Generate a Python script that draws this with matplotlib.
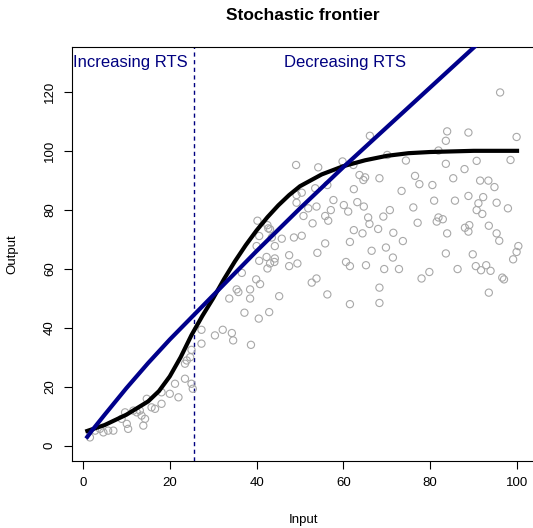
import matplotlib
matplotlib.use('Agg')
import matplotlib.pyplot as plt

plt.rcParams['font.family'] = ['Liberation Sans', 'DejaVu Sans']

# observed firms (input, output)
input_x = [1.6, 2.8, 3.9, 4.7, 5.8, 7.0, 8.9, 9.7, 10.1, 10.4, 11.6, 12.4, 13.1, 13.5, 14.3, 13.9,
           15.8, 16.6, 14.7, 18.1, 18.1, 20.0, 22.0, 21.2, 23.5, 23.5,
           25.0, 25.3, 23.9, 24.7, 25.0, 27.3, 27.3, 30.4, 32.2, 34.3, 34.6, 38.7, 33.7, 35.4, 35.8,
           38.5, 38.5, 37.2, 40.5, 42.9, 45.2, 39.9, 40.8, 36.6, 40.6, 42.3, 43.1, 42.5, 44.1, 47.5, 47.5,
           49.1, 54.2, 49.2, 50.4, 53.5, 56.3, 49.2, 51.9, 53.8, 57.7, 57.1, 50.8, 55.8, 56.5, 52.9,
           40.2, 42.5, 42.7, 43.1, 40.6, 43.5, 45.8, 48.6, 50.4, 40.0, 44.2, 55.8, 44.2, 54.0,
           61.5, 62.4, 64.4, 66.5, 49.4, 60.6, 61.5, 65.2, 52.7, 53.8, 56.3, 61.5, 68.3, 68.3,
           66.1, 59.8, 62.3, 70.1, 74.4, 63.7, 65.0, 64.6, 68.3, 76.5, 77.5, 62.4, 73.4, 60.1, 61.1,
           63.2, 64.7, 70.7, 76.1, 65.7, 66.0, 69.2, 77.1, 68.0, 71.5, 73.7, 69.8,
           71.4, 69.4, 72.8, 78.0, 79.8,
           96.1, 83.9, 88.8, 83.6, 99.9, 81.9, 83.6, 90.7, 98.5, 87.9, 85.3, 91.5, 93.4, 94.8, 80.5,
           88.8, 92.2, 80.9, 85.7, 91.1, 90.7, 92.0, 95.3, 97.9, 81.9, 81.5, 82.9, 89.0, 88.0, 93.5,
           88.8, 83.9, 95.3, 95.9, 100.3, 99.9, 99.1, 83.6, 89.8, 86.3, 90.5, 91.7, 92.9, 93.9,
           96.6, 97.0, 93.5]
output_y = [2.8, 5.1, 5.7, 4.5, 5.1, 5.1, 9.1, 11.3, 7.4, 5.7, 11.9, 11.3, 11.9, 10.2, 9.1, 6.8,
            13.0, 12.5, 15.9, 14.2, 18.1, 17.6, 16.4, 21.0, 22.7, 27.8,
            21.0, 19.3, 28.9, 30.0, 32.5, 39.3, 34.6, 37.4, 39.3, 38.2, 35.7, 34.2, 49.9, 53.0, 52.1,
            53.0, 49.9, 45.1, 43.1, 45.3, 50.7, 56.4, 54.8, 58.6, 62.7, 64.0, 61.8, 60.1, 62.3, 60.9, 64.6,
            95.2, 94.4, 85.0, 85.8, 87.3, 88.4, 82.4, 80.5, 81.1, 83.3, 79.9, 77.9, 77.9, 76.3, 75.4,
            76.3, 74.8, 73.7, 73.4, 71.1, 70.6, 70.2, 70.6, 71.2, 67.7, 67.7, 68.6, 63.5, 65.4,
            69.1, 73.1, 72.0, 66.1, 61.8, 62.3, 60.9, 61.2, 55.3, 56.7, 51.3, 48.0, 53.6, 48.4,
            105.1, 96.4, 95.2, 98.6, 96.7, 91.8, 91.0, 90.1, 90.7, 91.5, 88.7, 87.0, 86.4, 81.6, 79.4,
            82.6, 81.1, 79.9, 80.8, 77.4, 75.2, 77.7, 75.6, 73.5, 72.2, 69.4, 67.2,
            63.8, 59.9, 59.9, 56.7, 58.9,
            119.8, 106.6, 106.2, 103.4, 104.7, 100.1, 95.6, 96.6, 96.9, 93.8, 90.7, 89.9, 89.9, 87.7, 88.4,
            84.7, 84.3, 83.1, 83.1, 82.2, 79.9, 78.6, 82.4, 80.5, 77.4, 76.0, 76.8, 74.8, 73.9, 74.6,
            72.6, 72.0, 72.0, 69.5, 67.7, 65.7, 63.2, 65.2, 64.9, 59.9, 60.9, 59.5, 61.2, 59.3,
            57.0, 56.4, 51.9]

# stochastic frontier (black curve)
frontier_x = [1, 5, 10, 15, 17.5, 20, 22.5, 25, 27.5, 30, 32.5, 35, 37.5, 40, 42.5, 45, 47.5,
              50, 55, 60, 65, 70, 75, 80, 90, 100]
frontier_y = [5, 7, 10.5, 15, 18.5, 23.5, 30, 37.5, 44, 50, 56.5, 62.5, 68, 73, 77.5, 81.5, 85,
              88, 92, 94.8, 96.8, 98.3, 99.2, 99.6, 100, 100]

# constant-returns reference (blue line)
ray_x = [1, 2, 5, 10, 15, 20, 25, 30, 40, 50, 60, 70, 80, 90, 100]
ray_y = [3, 5, 10.5, 19.5, 28, 36, 43.5, 51, 66, 80.5, 94.5, 108, 121.5, 135, 148]

rts_split = 25.5

fig = plt.figure(figsize=(5.33, 5.28), dpi=100)
ax = fig.add_axes([0.1358, 0.1269, 0.866, 0.784])

ax.scatter(input_x, output_y, s=27, facecolors='none', edgecolors='#a8a8a8', linewidths=0.8, zorder=2)
ax.plot(frontier_x, frontier_y, color='black', lw=3, zorder=3)
ax.plot(ray_x, ray_y, color='#00008b', lw=3, zorder=4)
ax.axvline(rts_split, color='#000080', lw=1, ls=(0, (3, 2.5)), zorder=1)

ax.text(10.9, 130, 'Increasing RTS', ha='center', va='center', color='#000080', fontsize=12)
ax.text(60.4, 130, 'Decreasing RTS', ha='center', va='center', color='#000080', fontsize=12)

ax.set_xlim(-2.44, 103.9)
ax.set_ylim(-5.2, 135.2)
ax.set_xticks([0, 20, 40, 60, 80, 100])
ax.set_yticks([0, 20, 40, 60, 80, 100, 120])
ax.tick_params(length=5.8, width=0.8, labelsize=9.5, pad=6)
ax.tick_params(axis='y', labelrotation=90)
for lab in ax.get_yticklabels():
    lab.set_va('center')
for sp in ax.spines.values():
    sp.set_linewidth(0.8)

ax.set_xlabel('Input', fontsize=9.5)
ax.xaxis.set_label_coords(0.5, -0.128)
ax.set_ylabel('Output', fontsize=9.5)
ax.yaxis.set_label_coords(-0.116, 0.5)

fig.text(0.569, 1 - 15 / 528, 'Stochastic frontier', ha='center', va='center',
         fontsize=12.5, fontweight='bold')

fig.savefig('out.png', dpi=100)
